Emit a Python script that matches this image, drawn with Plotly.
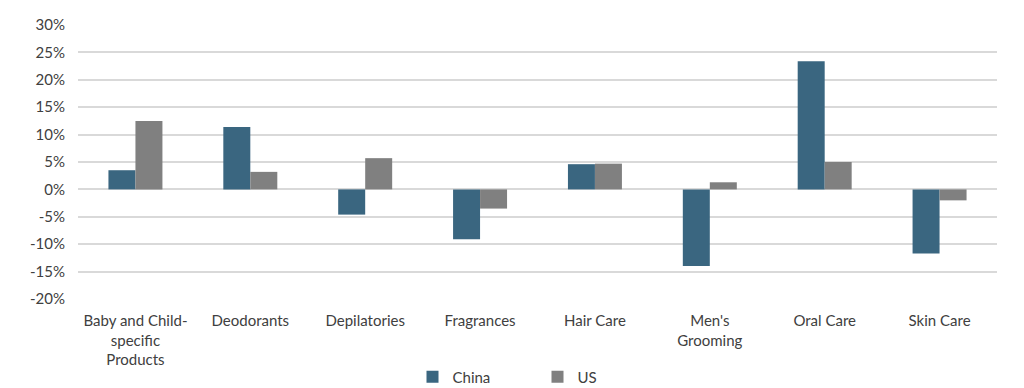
import plotly.graph_objects as go

categories = ["Baby and Child-<br>specific<br>Products", "Deodorants", "Depilatories", "Fragrances",
              "Hair Care", "Men's<br>Grooming", "Oral Care", "Skin Care"]
china = [0.035, 0.114, -0.046, -0.091, 0.046, -0.140, 0.234, -0.117]
us = [0.125, 0.032, 0.057, -0.035, 0.047, 0.013, 0.050, -0.020]
tick_vals = [-0.20, -0.15, -0.10, -0.05, 0.0, 0.05, 0.10, 0.15, 0.20, 0.25, 0.30]
tick_text = ["-20%", "-15%", "-10%", "-5%", "0%", "5%", "10%", "15%", "20%", "25%", "30%"]

FONT = "Lato, Roboto, sans-serif"
TXT = "#404040"

fig = go.Figure()
fig.add_trace(go.Bar(name="China", x=categories, y=china, marker_color="#3a6680", marker_line_width=0))
fig.add_trace(go.Bar(name="US", x=categories, y=us, marker_color="#808080", marker_line_width=0))

fig.update_layout(
    width=1008, height=380,
    margin=dict(l=70, r=19, t=17, b=89, autoexpand=False),
    paper_bgcolor="white", plot_bgcolor="white",
    barmode="group", bargap=0.53, bargroupgap=0,
    font=dict(family=FONT, size=15, color=TXT),
    legend=dict(orientation="h", x=0.5, xanchor="center", y=-0.285, yanchor="middle",
                font=dict(size=15, color=TXT), entrywidth=80, entrywidthmode="pixels",
                itemwidth=30, traceorder="normal"),
    xaxis=dict(showgrid=False, showline=False, ticks="", automargin=False,
               ticklabelstandoff=11, tickfont=dict(size=15, color=TXT)),
    yaxis=dict(range=[-0.20, 0.30], tickvals=tick_vals, ticktext=tick_text,
               showgrid=True, gridcolor="#d9d9d9", gridwidth=1.5,
               zeroline=True, zerolinecolor="#d9d9d9", zerolinewidth=1.5,
               showline=False, ticks="", automargin=False,
               ticklabelstandoff=12, tickfont=dict(size=15, color=TXT)),
)
fig.write_html("out.html")
